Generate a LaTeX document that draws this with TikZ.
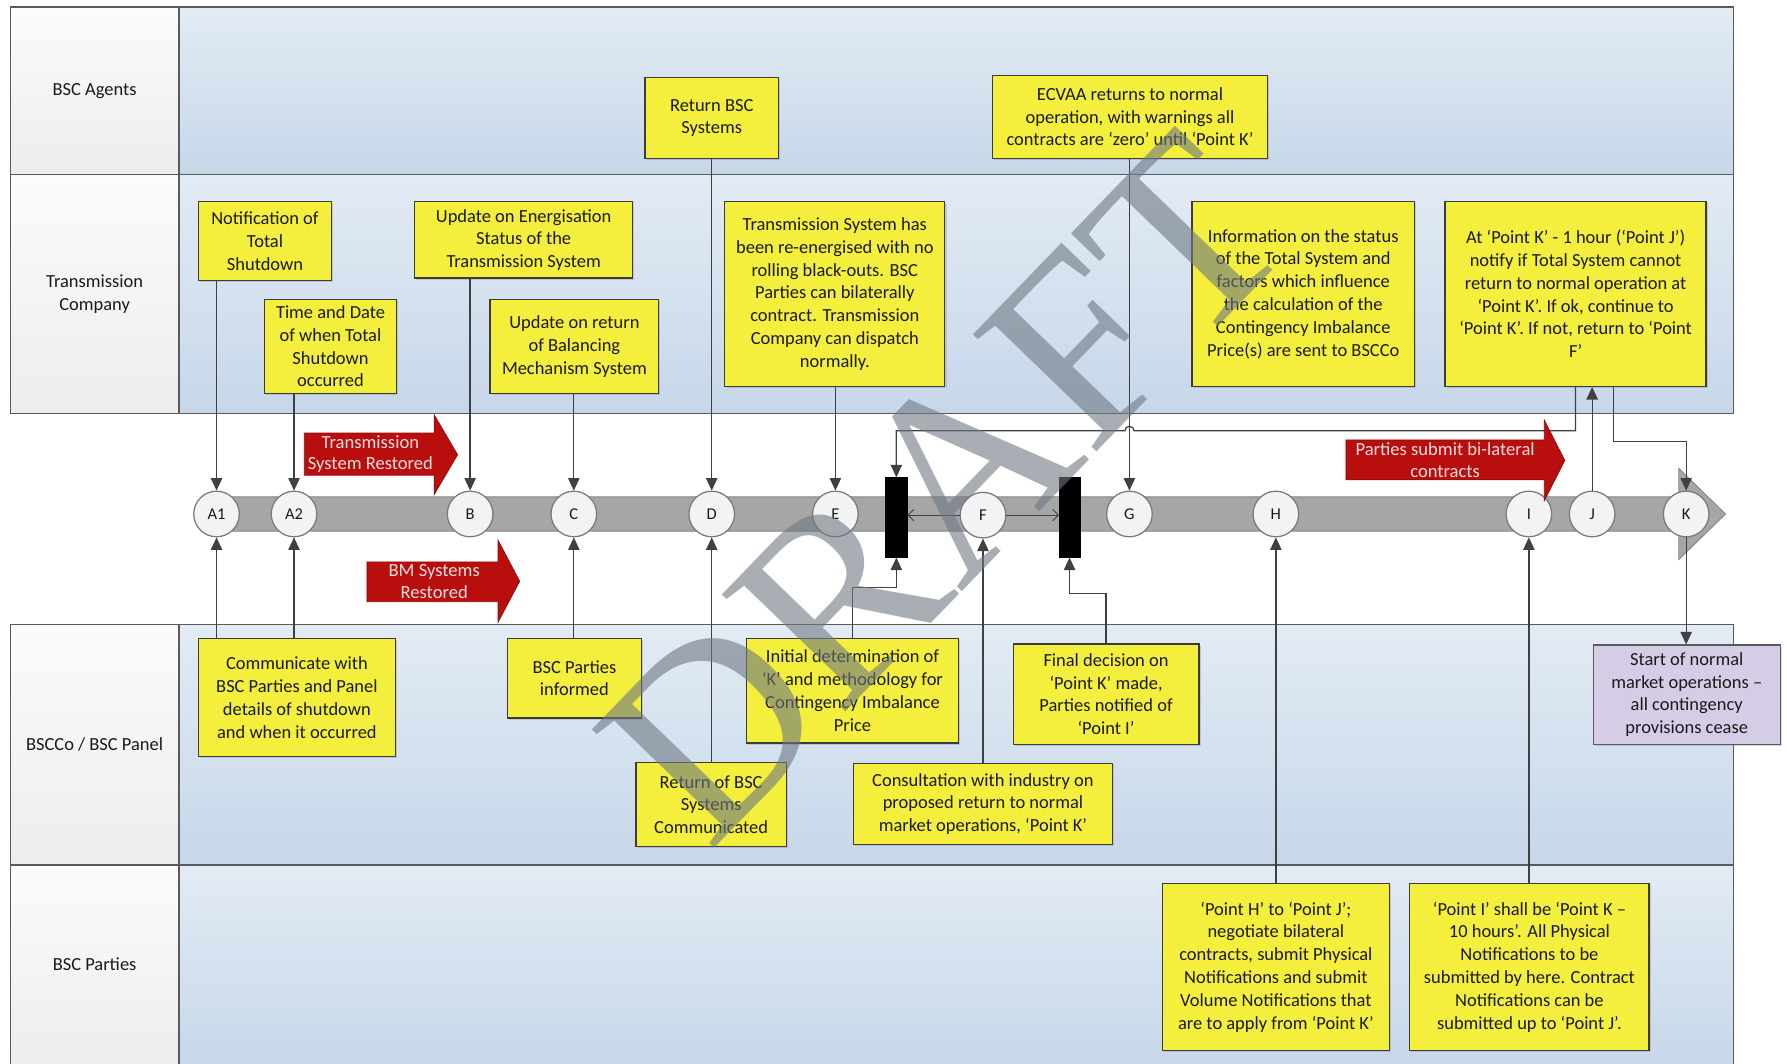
\documentclass[tikz,border=0pt]{standalone}
\usepackage{fontspec}
\setmainfont{Carlito}
\newfontfamily\wmfont{Liberation Serif}
\usetikzlibrary{arrows.meta,calc,shadows}

\definecolor{laneTop}{HTML}{E3EBF4}
\definecolor{laneBot}{HTML}{C6D7E9}
\definecolor{lblTop}{HTML}{FBFBFB}
\definecolor{lblBot}{HTML}{EDEDED}
\definecolor{frameC}{HTML}{5A5A5A}
\definecolor{boxY}{HTML}{F4EE3C}
\definecolor{boxP}{HTML}{D5CDE5}
\definecolor{boxLine}{HTML}{3C3C3C}
\definecolor{txtC}{HTML}{1A1A1A}
\definecolor{lineC}{HTML}{404040}
\definecolor{bandC}{HTML}{A6A6A6}
\definecolor{bandLine}{HTML}{858585}
\definecolor{circC}{HTML}{F3F3F3}
\definecolor{circLine}{HTML}{7A7A7A}
\definecolor{redA}{HTML}{B80E0E}
\definecolor{redTxt}{HTML}{F7DEDE}
\definecolor{wmC}{HTML}{6E7883}

\begin{document}
\begin{tikzpicture}[x=1pt,y=-1pt,
  lane/.style={draw=frameC, line width=1.3pt, top color=laneTop, bottom color=laneBot},
  lbl/.style={draw=frameC, line width=1.3pt, top color=lblTop, bottom color=lblBot},
  lbltext/.style={align=center, font=\fontsize{16.2}{20}\selectfont, text=txtC},
  ybox/.style={draw=boxLine, line width=1.1pt, fill=boxY, align=center, inner sep=0pt,
    font=\fontsize{16.2}{20}\selectfont, text=txtC,
    drop shadow={shadow xshift=1.5pt, shadow yshift=-1.5pt, opacity=0.3}},
  pbox/.style={ybox, fill=boxP, draw=frameC},
  circ/.style={circle, draw=circLine, line width=1.1pt, fill=circC, minimum size=40pt,
    inner sep=0pt, font=\fontsize{14.5}{16}\selectfont, text=txtC},
  barnode/.style={fill=black, draw=black, minimum width=19pt, minimum height=70pt, inner sep=0pt},
  conn/.style={draw=lineC, line width=1.1pt},
  arr/.style={conn, -{Triangle[length=11pt,width=10pt]}},
  openarr/.style={draw=lineC, line width=0.8pt, -{Straight Barb[length=5pt,width=10pt]}},
  redarrow/.style={fill=redA, draw=redA!80!black, line width=0.6pt},
  redtext/.style={align=center, font=\fontsize{16.3}{19}\selectfont, text=redTxt, inner sep=0pt},
]
\path[use as bounding box] (0,0) rectangle (1568,933);
\fill[white] (0,0) rectangle (1568,933);

% ---------- swim lanes ----------
\path[lbl]  (9,6)    rectangle (157,153);
\path[lane] (157,6)  rectangle (1521,153);
\path[lbl]  (9,153)  rectangle (157,363);
\path[lane] (157,153) rectangle (1521,363);
\path[lbl]  (9,548)  rectangle (157,759);
\path[lane] (157,548) rectangle (1521,759);
\path[lbl]  (9,759)  rectangle (157,936);
\path[lane] (157,759) rectangle (1521,936);

\node[lbltext] (lAg) at (83,79.5) {BSC Agents};
\node[lbltext] (lTC) at (83,258) {Transmission\\Company};
\node[lbltext] (lBP) at (83,653) {BSCCo / BSC Panel};
\node[lbltext] (lPa) at (83,846) {BSC Parties};

% ---------- timeline band ----------
\path[fill=bandC, draw=bandLine, line width=0.8pt]
  (190,436) -- (1473,436) -- (1473,411) -- (1514,451) -- (1473,491) -- (1473,466) -- (190,466) -- cycle;

% ---------- boxes ----------
\node[ybox, minimum width=117pt, minimum height=71pt] (retBSC) at (624.5,103.5) {Return BSC\\Systems};
\node[ybox, minimum width=241pt, minimum height=73pt] (ecvaa) at (991.5,102.5)
  {ECVAA returns to normal\\operation, with warnings all\\contracts are ‘zero’ until ‘Point K’};

\node[ybox, minimum width=117pt, minimum height=69pt] (notif) at (232.5,211.5) {Notification of\\Total\\Shutdown};
\node[ybox, minimum width=116pt, minimum height=82pt] (timeD) at (290,304) {Time and Date\\of when Total\\Shutdown\\occurred};
\node[ybox, minimum width=191pt, minimum height=67pt] (updE) at (459.5,210.5) {Update on Energisation\\Status of the\\Transmission System};
\node[ybox, minimum width=148pt, minimum height=82pt] (updBM) at (504,304) {Update on return\\of Balancing\\Mechanism System};
\node[ybox, minimum width=193pt, minimum height=162pt] (tsRe) at (732.5,258)
  {Transmission System has\\been re-energised with no\\rolling black-outs. BSC\\Parties can bilaterally\\contract. Transmission\\Company can dispatch\\normally.};
\node[ybox, minimum width=195pt, minimum height=162pt] (info) at (1143.5,258)
  {Information on the status\\of the Total System and\\factors which influence\\the calculation of the\\Contingency Imbalance\\Price(s) are sent to BSCCo};
\node[ybox, minimum width=229pt, minimum height=162pt] (tJ) at (1382.5,258)
  {At ‘Point K’ - 1 hour (‘Point J’)\\notify if Total System cannot\\return to normal operation at\\‘Point K’. If ok, continue to\\‘Point K’. If not, return to ‘Point\\F’};

\node[ybox, minimum width=173pt, minimum height=104pt] (comm) at (260.5,612)
  {Communicate with\\BSC Parties and Panel\\details of shutdown\\and when it occurred};
\node[ybox, minimum width=118pt, minimum height=70pt] (bscInf) at (504,595) {BSC Parties\\informed};
\node[ybox, minimum width=132pt, minimum height=74pt] (retComm) at (624,706) {Return of BSC\\Systems\\Communicated};
\node[ybox, minimum width=186pt, minimum height=92pt] (init) at (748,606)
  {Initial determination of\\‘K’ and methodology for\\Contingency Imbalance\\Price};
\node[ybox, minimum width=227pt, minimum height=71pt] (consult) at (862.5,705.5)
  {Consultation with industry on\\proposed return to normal\\market operations, ‘Point K’};
\node[ybox, minimum width=163pt, minimum height=88pt] (finalD) at (970.5,609)
  {Final decision on\\‘Point K’ made,\\Parties notified of\\‘Point I’};
\node[pbox, minimum width=164pt, minimum height=87pt] (startN) at (1480,609.5)
  {Start of normal\\market operations –\\all contingency\\provisions cease};

\node[ybox, minimum width=199pt, minimum height=147pt] (ptH) at (1119.5,848.5)
  {‘Point H’ to ‘Point J’;\\negotiate bilateral\\contracts, submit Physical\\Notifications and submit\\Volume Notifications that\\are to apply from ‘Point K’};
\node[ybox, minimum width=210pt, minimum height=147pt] (ptI) at (1342,848.5)
  {‘Point I’ shall be ‘Point K –\\10 hours’. All Physical\\Notifications to be\\submitted by here. Contract\\Notifications can be\\submitted up to ‘Point J’.};

% ---------- milestones ----------
\node[circ] (A1) at (190,451) {A1};
\node[circ] (A2) at (258,451) {A2};
\node[circ] (B)  at (412.5,451) {B};
\node[circ] (C)  at (503.5,451) {C};
\node[circ] (D)  at (624.5,451) {D};
\node[circ] (E)  at (733,451) {E};
\node[circ] (F)  at (862.5,452) {F};
\node[circ] (G)  at (991,451) {G};
\node[circ] (H)  at (1119.5,451) {H};
\node[circ] (I)  at (1341.5,451) {I};
\node[circ] (J)  at (1397,451) {J};
\node[circ] (K)  at (1479.5,451) {K};
\node[barnode] (barA) at (786.5,454) {};
\node[barnode, minimum width=18pt] (barB) at (938.5,454) {};

\coordinate (loopRow) at (0,378);
\coordinate (hopR) at ($(G |- loopRow)+(4,0)$);

% ---------- connectors ----------
\draw[arr] (retBSC.south -| D) -- (D.north);
\draw[arr] (ecvaa.south -| G) -- (G.north);
\draw[arr] (notif.south -| A1) -- (A1.north);
\draw[arr] (timeD.south -| A2) -- (A2.north);
\draw[arr] (updE.south -| B) -- (B.north);
\draw[arr] (updBM.south -| C) -- (C.north);
\draw[arr] (tsRe.south -| E) -- (E.north);
\draw[arr] (comm.north -| A1) -- (A1.south);
\draw[arr] (comm.north -| A2) -- (A2.south);
\draw[arr] (bscInf.north -| C) -- (C.south);
\draw[arr] (retComm.north -| D) -- (D.south);
\draw[arr] (init.north) -- ++(0,-44) -| (barA.south);
\draw[arr] (consult.north -| F) -- (F.south);
\draw[arr] (finalD.north) -- ++(0,-44) -| (barB.south);
\draw[arr] (ptH.north -| H) -- (H.south);
\draw[arr] (ptI.north -| I) -- (I.south);
\draw[openarr] (F.west) -- (F.west -| barA.east);
\draw[openarr] (F.east) -- (F.east -| barB.west);
\draw[arr] (tJ.south) |- (hopR) arc[start angle=0, end angle=180, radius=4pt] -| (barA.north);
\draw[arr] (J.north) -- (J.north |- tJ.south);
\draw[arr] ([xshift=33pt]tJ.south) -- ++(0,48) -| (K.north);
\draw[arr] (K.south) -- (K.south |- startN.north);

% ---------- red block arrows ----------
\path[redarrow] (267,380) -- (381,380) -- (381,364) -- (401.5,399) -- (381,434) -- (381,417) -- (267,417) -- cycle;
\node[redtext] (rTS) at (325,398.5) {Transmission\\System Restored};
\path[redarrow] (322,493) -- (437,493) -- (437,474) -- (456,510) -- (437,546) -- (437,528) -- (322,528) -- cycle;
\node[redtext] (rBM) at (381,510.5) {BM Systems\\Restored};
\path[redarrow] (1181,386) -- (1355,386) -- (1355,368.5) -- (1373,404) -- (1355,439.5) -- (1355,421) -- (1181,421) -- cycle;
\node[redtext] (rPS) at (1268,403.5) {Parties submit bi-lateral\\contracts};

% ---------- watermark ----------
\node[rotate=46, inner sep=0pt, text=wmC, text opacity=0.6,
  font=\wmfont\fontsize{228}{228}\selectfont] (wm) at (828,428) {DRAFT};
\end{tikzpicture}
\end{document}
